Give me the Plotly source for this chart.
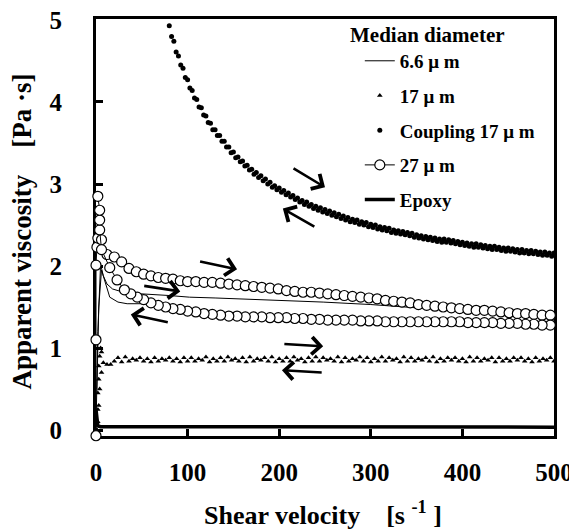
import plotly.graph_objects as go

# ---------------- data ----------------
# 6.6 um : thin line loop (up then down)
d66_x = [0, 2, 5, 8, 12, 18, 30, 50, 80, 102, 130, 157, 200, 248, 300, 350, 400, 450, 500,
         500, 450, 400, 350, 300, 250, 200, 150, 100, 66, 51, 34, 24, 15, 10, 6, 3, 1]
d66_y = [0.0, 1.2, 2.02, 1.88, 1.78, 1.72, 1.68, 1.66, 1.64, 1.62, 1.61, 1.60, 1.58, 1.56, 1.53, 1.49, 1.45, 1.40, 1.36,
         1.25, 1.26, 1.27, 1.28, 1.30, 1.32, 1.34, 1.37, 1.43, 1.50, 1.54, 1.54, 1.56, 1.62, 1.79, 1.95, 1.5, 0.5]

# 17 um : triangles (up row, down row)
t17_up_x = [1, 2, 2, 3, 3, 4, 5, 6,
            8, 16, 24, 32, 40, 48, 56, 64, 72, 80, 88, 96, 104, 112, 120, 128, 136, 144, 152, 160,
            168, 176, 184, 192, 200, 208, 216, 224, 232, 240, 248, 256, 264, 272, 280, 288, 296, 304,
            312, 320, 328, 336, 344, 352, 360, 368, 376, 384, 392, 400, 408, 416, 424, 432, 440, 448,
            456, 464, 472, 480, 488, 496]
t17_up_y = [0.0, 0.25, 0.45, 0.62, 0.78, 0.9, 1.0, 0.95,
            0.82, 0.80, 0.88, 0.89, 0.87, 0.88, 0.87, 0.88, 0.87, 0.88, 0.87, 0.88, 0.88, 0.87, 0.89, 0.87, 0.88, 0.89, 0.87, 0.88,
            0.89, 0.87, 0.88, 0.89, 0.87, 0.88, 0.89, 0.87, 0.88, 0.89, 0.88, 0.87, 0.89, 0.88, 0.87, 0.89, 0.88, 0.87,
            0.89, 0.88, 0.87, 0.89, 0.88, 0.87, 0.88, 0.89, 0.87, 0.88, 0.88, 0.87, 0.89, 0.88, 0.87, 0.88, 0.88, 0.87,
            0.88, 0.88, 0.87, 0.88, 0.87, 0.88]
t17_dn_x = [500, 492, 484, 476, 468, 460, 452, 444, 436, 428, 420, 412, 404, 396, 388, 380, 372, 364,
            356, 348, 340, 332, 324, 316, 308, 300, 292, 284, 276, 268, 260, 252, 244, 236, 228, 220,
            212, 204, 196, 188, 180, 172, 164, 156, 148, 140, 132, 124, 116, 108, 100, 92, 84, 76,
            68, 60, 52, 44, 36, 28, 20, 12, 6, 4, 3, 2, 1]
t17_dn_y = [0.84, 0.85, 0.84, 0.83, 0.84, 0.85, 0.84, 0.84, 0.83, 0.85, 0.84, 0.84, 0.83, 0.84, 0.85, 0.84, 0.83, 0.84,
            0.85, 0.84, 0.84, 0.83, 0.85, 0.84, 0.84, 0.83, 0.84, 0.85, 0.84, 0.83, 0.84, 0.85, 0.84, 0.84, 0.83, 0.85,
            0.84, 0.84, 0.83, 0.84, 0.85, 0.84, 0.83, 0.84, 0.85, 0.84, 0.84, 0.83, 0.85, 0.84, 0.84, 0.83, 0.84, 0.85,
            0.84, 0.83, 0.84, 0.85, 0.84, 0.83, 0.84, 0.80, 0.7, 0.5, 0.3, 0.1, 0.0]

# Coupling 17 um : filled dots (two branches)
cp_up_x = [80, 85, 90, 95, 100, 105, 110, 115, 120, 125, 130, 135, 140, 145, 150, 155, 160, 165, 170, 175,
           180, 185, 190, 195, 200, 205, 210, 215, 220, 225, 230, 235, 240, 245, 250, 255, 260, 265, 270, 275,
           280, 285, 290, 295, 300, 305, 310, 315, 320, 325, 330, 335, 340, 345, 350, 355, 360, 365, 370, 375,
           380, 385, 390, 395, 400, 405, 410, 415, 420, 425, 430, 435, 440, 445, 450, 455, 460, 465, 470, 475,
           480, 485, 490, 495, 500]
cp_up_y = [4.93, 4.74, 4.56, 4.41, 4.27, 4.14, 4.03, 3.93, 3.83, 3.74, 3.66, 3.59, 3.52, 3.45, 3.39, 3.33, 3.28, 3.23, 3.18, 3.14,
           3.10, 3.06, 3.02, 2.98, 2.95, 2.92, 2.89, 2.86, 2.83, 2.80, 2.78, 2.75, 2.73, 2.71, 2.69, 2.67, 2.65, 2.63, 2.61, 2.59,
           2.57, 2.56, 2.54, 2.53, 2.51, 2.50, 2.48, 2.47, 2.46, 2.44, 2.43, 2.42, 2.41, 2.40, 2.38, 2.37, 2.36, 2.35, 2.34, 2.33,
           2.33, 2.32, 2.31, 2.30, 2.29, 2.28, 2.27, 2.27, 2.26, 2.25, 2.24, 2.24, 2.23, 2.22, 2.22, 2.21, 2.20, 2.20, 2.19, 2.19,
           2.18, 2.17, 2.17, 2.16, 2.16]
cp_dn_x = [82.5, 87.5, 92.5, 97.5, 102.5, 107.5, 112.5, 117.5, 122.5, 127.5, 132.5, 137.5, 142.5, 147.5, 152.5, 157.5,
           162.5, 167.5, 172.5, 177.5, 182.5, 187.5, 192.5, 197.5, 202.5, 207.5, 212.5, 217.5, 222.5, 227.5, 232.5, 237.5,
           242.5, 247.5, 252.5, 257.5, 262.5, 267.5, 272.5, 277.5, 282.5, 287.5, 292.5, 297.5, 302.5, 307.5, 312.5, 317.5,
           322.5, 327.5, 332.5, 337.5, 342.5, 347.5, 352.5, 357.5, 362.5, 367.5, 372.5, 377.5, 382.5, 387.5, 392.5, 397.5,
           402.5, 407.5, 412.5, 417.5, 422.5, 427.5, 432.5, 437.5, 442.5, 447.5, 452.5, 457.5, 462.5, 467.5, 472.5, 477.5,
           482.5, 487.5, 492.5, 497.5]
cp_dn_y = [4.80, 4.61, 4.45, 4.30, 4.17, 4.05, 3.94, 3.84, 3.75, 3.66, 3.59, 3.52, 3.45, 3.38, 3.32, 3.27,
           3.22, 3.17, 3.12, 3.08, 3.04, 3.00, 2.96, 2.93, 2.90, 2.87, 2.84, 2.81, 2.78, 2.75, 2.73, 2.70,
           2.68, 2.66, 2.64, 2.62, 2.60, 2.58, 2.56, 2.54, 2.53, 2.51, 2.50, 2.48, 2.47, 2.45, 2.44, 2.43,
           2.41, 2.40, 2.39, 2.38, 2.37, 2.35, 2.34, 2.33, 2.32, 2.31, 2.30, 2.29, 2.29, 2.28, 2.27, 2.26,
           2.25, 2.24, 2.23, 2.23, 2.22, 2.21, 2.20, 2.20, 2.19, 2.18, 2.18, 2.17, 2.16, 2.16, 2.15, 2.15,
           2.14, 2.13, 2.13, 2.12]

# 27 um : open circles (up branch, down branch)
c27_up_x = [0, 0, 0, 1, 2, 6, 12, 20, 28, 36, 44, 52, 60, 68, 76, 84, 92, 100, 109, 118, 127, 136, 145, 154,
            163, 172, 181, 190, 199, 208, 217, 226, 235, 244, 253, 262, 271, 280, 289, 298, 307, 316, 325,
            334, 343, 352, 361, 370, 379, 388, 397, 406, 415, 424, 433, 442, 451, 460, 469, 478, 487, 496]
c27_up_y = [-0.07, 1.10, 2.01, 2.23, 2.34, 2.32, 2.14, 2.11, 2.05, 1.97, 1.93, 1.90, 1.88, 1.86, 1.85, 1.84, 1.82, 1.81,
            1.81, 1.80, 1.80, 1.79, 1.78, 1.77, 1.76, 1.75, 1.74, 1.73, 1.72, 1.70, 1.69, 1.68, 1.68, 1.67, 1.66, 1.65,
            1.64, 1.63, 1.62, 1.61, 1.60, 1.58, 1.57, 1.56, 1.55, 1.53, 1.52, 1.51, 1.50, 1.49, 1.48, 1.47, 1.46, 1.46,
            1.45, 1.44, 1.43, 1.42, 1.42, 1.41, 1.40, 1.40]
c27_dn_x = [496, 487, 478, 469, 460, 451, 442, 433, 424, 415, 406, 397, 388, 379, 370, 361, 352, 343, 334, 325,
            316, 307, 298, 289, 280, 271, 262, 253, 244, 235, 226, 217, 208, 199, 190, 181, 172, 163, 154, 145,
            136, 127, 118, 109, 100, 92, 84, 76, 68, 60, 52, 45, 38, 31, 23, 15, 6, 4, 4, 4, 2]
c27_dn_y = [1.28, 1.28, 1.29, 1.29, 1.30, 1.30, 1.30, 1.31, 1.31, 1.31, 1.31, 1.32, 1.32, 1.32, 1.32, 1.32, 1.32, 1.32,
            1.32, 1.32, 1.32, 1.33, 1.33, 1.33, 1.34, 1.34, 1.34, 1.34, 1.35, 1.35, 1.36, 1.36, 1.37, 1.37, 1.37, 1.38,
            1.38, 1.38, 1.39, 1.39, 1.40, 1.41, 1.42, 1.44, 1.45, 1.47, 1.48, 1.50, 1.52, 1.55, 1.59, 1.62, 1.66, 1.71,
            1.83, 1.98, 2.20, 2.44, 2.56, 2.68, 2.85]

# Epoxy : thick line
ep_x = [0, 1, 2, 5, 10, 20, 50, 100, 150, 200, 250, 300, 350, 400, 450, 500]
ep_y = [0.25, 0.08, 0.05, 0.04, 0.04, 0.035, 0.04, 0.04, 0.03, 0.04, 0.035, 0.04, 0.035, 0.04, 0.035, 0.035]

# arrows: (tail_x, tail_y, head_x, head_y)
arrows = [(214, 3.20, 250, 2.96), (240, 2.47, 204, 2.70),
          (112, 2.06, 154, 1.96), (51, 1.76, 92, 1.69), (80, 1.31, 38, 1.41),
          (204, 1.05, 248, 1.02), (248, 0.70, 203, 0.73)]

x_ticks = [0, 100, 200, 300, 400, 500]
y_ticks = [0, 1, 2, 3, 4, 5]

# ---------------- figure ----------------
SERIF = "Liberation Serif, Times New Roman, serif"
fig = go.Figure()

fig.add_trace(go.Scatter(x=d66_x, y=d66_y, mode="lines", name="6.6 μ m",
                         line=dict(color="black", width=1), legendgroup="a"))
fig.add_trace(go.Scatter(x=t17_up_x, y=t17_up_y, mode="markers", name="17 μ m",
                         marker=dict(symbol="triangle-up", size=5, color="black"), legendgroup="b"))
fig.add_trace(go.Scatter(x=t17_dn_x, y=t17_dn_y, mode="markers", showlegend=False,
                         marker=dict(symbol="triangle-up", size=5, color="black"), legendgroup="b"))
fig.add_trace(go.Scatter(x=cp_up_x, y=cp_up_y, mode="markers", name="Coupling 17 μ m",
                         marker=dict(symbol="circle", size=5, color="black"), legendgroup="c"))
fig.add_trace(go.Scatter(x=cp_dn_x, y=cp_dn_y, mode="markers", showlegend=False,
                         marker=dict(symbol="circle", size=5, color="black"), legendgroup="c"))
fig.add_trace(go.Scatter(x=c27_up_x, y=c27_up_y, mode="lines+markers", name="27 μ m",
                         line=dict(color="black", width=1),
                         marker=dict(symbol="circle", size=10, color="white", line=dict(color="black", width=1.2)),
                         cliponaxis=False, legendgroup="d"))
fig.add_trace(go.Scatter(x=c27_dn_x, y=c27_dn_y, mode="lines+markers", showlegend=False,
                         line=dict(color="black", width=1),
                         marker=dict(symbol="circle", size=10, color="white", line=dict(color="black", width=1.2)),
                         cliponaxis=False, legendgroup="d"))
fig.add_trace(go.Scatter(x=ep_x, y=ep_y, mode="lines", name="Epoxy",
                         line=dict(color="black", width=3.5), legendgroup="e"))

for tx, ty, hx, hy in arrows:
    fig.add_annotation(x=hx, y=hy, ax=tx, ay=ty, xref="x", yref="y", axref="x", ayref="y",
                       text="", showarrow=True, arrowhead=4, arrowsize=1.3, arrowwidth=2.6,
                       arrowcolor="black", standoff=0, startstandoff=0)

fig.add_annotation(text="Apparent viscosity\u00a0\u00a0\u00a0\u00a0[Pa\u00a0·s]", xref="paper", yref="paper",
                   x=-0.162, y=0.49, xanchor="center", yanchor="middle", textangle=-90, showarrow=False,
                   font=dict(family=SERIF, size=27, color="black", weight="bold"))
fig.add_annotation(text="Shear velocity\u00a0\u00a0\u00a0\u00a0[s <sup>-1</sup> ]", xref="paper", yref="paper",
                   x=0.496, y=-0.187, xanchor="center", yanchor="middle", showarrow=False,
                   font=dict(family=SERIF, size=26, color="black", weight="bold"))
fig.add_annotation(text="Median diameter", xref="paper", yref="paper", x=0.550, y=0.962,
                   xanchor="left", yanchor="middle", showarrow=False,
                   font=dict(family=SERIF, size=21, color="black", weight="bold"))

axis_common = dict(showline=True, linecolor="black", linewidth=3, mirror=True, ticks="inside",
                   ticklen=7, tickwidth=3, tickcolor="black", showgrid=False, zeroline=False,
                   layer="below traces", automargin=False, ticklabeloverflow="allow",
                   tickfont=dict(family=SERIF, size=25, color="black", weight="bold"))

fig.update_xaxes(range=[0, 500], tickvals=x_ticks, ticklabelstandoff=12, **axis_common)
fig.update_yaxes(range=[-0.073, 5.012], tickvals=y_ticks, ticklabelstandoff=26, **axis_common)

# page body keeps an 8 px margin, so the figure is 8 px smaller and margins are shifted
fig.update_layout(
    width=569, height=522,
    margin=dict(l=88, r=23, t=11, b=94),
    plot_bgcolor="white", paper_bgcolor="white",
    legend=dict(x=0.576, y=0.945, xanchor="left", yanchor="top", bgcolor="rgba(0,0,0,0)",
                tracegroupgap=7, traceorder="grouped",
                font=dict(family=SERIF, size=19, color="black", weight="bold")),
)

fig.write_html("out.html")
